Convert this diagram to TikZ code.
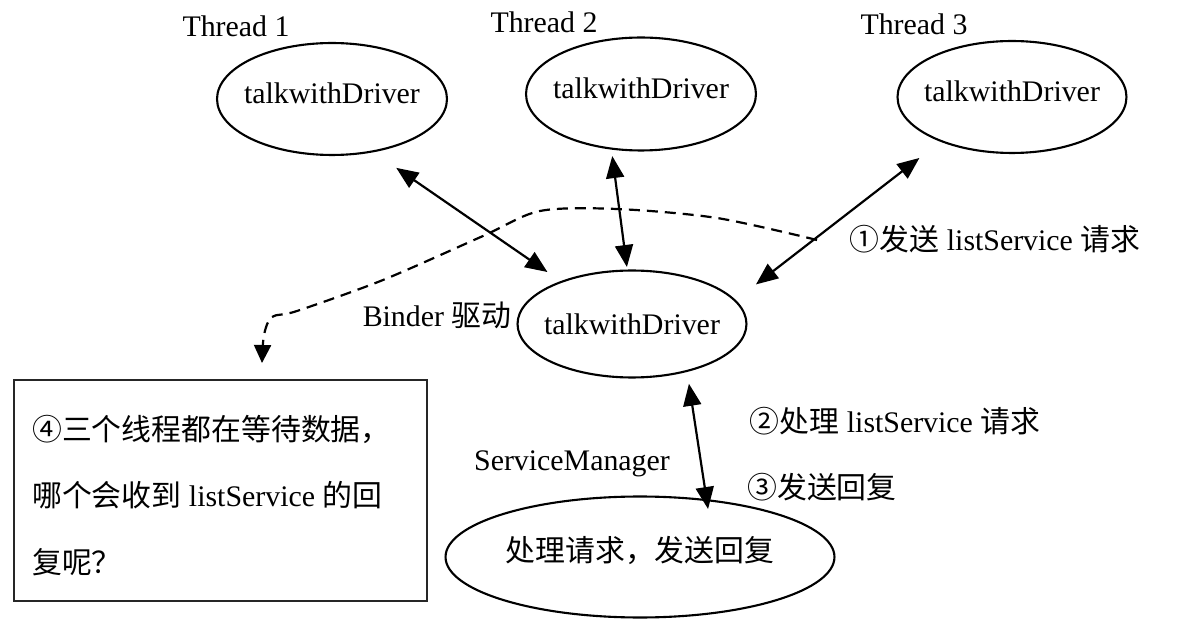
\documentclass[tikz,border=0pt]{standalone}
\usepackage{fontspec}
\setmainfont{Liberation Serif}
\newfontfamily\cjk{Noto Sans CJK SC}
\usetikzlibrary{shapes.geometric,arrows.meta,positioning}

\tikzset{
  proc/.style={ellipse, draw, line width=1.2pt, inner xsep=-10pt, inner ysep=0pt},
  link/.style={{Triangle[length=0.44cm,width=0.36cm]}-{Triangle[length=0.44cm,width=0.36cm]}, line width=1.25pt},
  qbox/.style={rectangle, draw=black!85, line width=1.2pt, minimum width=8.26cm, minimum height=4.42cm},
}

\begin{document}
\begin{tikzpicture}[x=0.02cm, y=-0.02cm, font=\fontsize{17}{20}\selectfont]
   \useasboundingbox (0,0) rectangle (1197,631);
   % three client threads
   \node[proc, text depth=0.22cm, minimum width=4.6cm, minimum height=2.24cm] (t1) at (332,99) {talkwithDriver};
   \node[proc, text depth=0.24cm, minimum width=4.6cm, minimum height=2.26cm] (t2) at (641,94) {talkwithDriver};
   \node[proc, text depth=0.22cm, minimum width=4.58cm, minimum height=2.24cm] (t3) at (1012,97) {talkwithDriver};
   \node (t1lbl) at (236,26) {Thread 1};
   \node (t2lbl) at (544,22) {Thread 2};
   \node (t3lbl) at (914,24) {Thread 3};
   % binder driver and service manager
   \node[proc, minimum width=4.58cm, minimum height=2.14cm] (drv) at (632,324) {talkwithDriver};
   \node (drvlbl) at (437,315) {Binder {\cjk 驱动}};
   \node[proc, text depth=0.32cm, minimum width=7.78cm, minimum height=2.42cm] (sm) at (640,557) {\cjk 处理请求，发送回复};
   \node (smlbl) at (572,464) {ServiceManager};
   % steps
   \node (step1) at (995,239) {{\cjk ①发送} listService {\cjk 请求}};
   \node (step2) at (895,421) {{\cjk ②处理} listService {\cjk 请求}};
   \node (step3) at (822,487) {\cjk ③发送回复};
   % question box
   \node[qbox] (box) at (220.5,490.5) {};
   \node[align=left, anchor=west, font=\fontsize{17}{37.8}\selectfont] (question)
     at ([xshift=0.26cm, yshift=-0.1cm]box.west)
     {{\cjk ④三个线程都在等待数据，}\\
      {\cjk 哪个会收到} listService {\cjk 的回}\\
      {\cjk 复呢？}};
   % connectors
   \draw[link, shorten <=0.55cm, shorten >=0.32cm] (t1.-52) -- (drv.149);
   \draw[link, shorten <=0.13cm, shorten >=0.05cm] (t2.242) -- (drv.95);
   \draw[link, shorten <=0.53cm, shorten >=0.51cm] (t3.212) -- (drv.13);
   \draw[link, shorten <=0.24cm, shorten >=-0.2cm] (drv.-41) -- (sm.41);
   \coordinate (reqfrom) at (817,240);
   \coordinate (reqto) at (262,363);
   \draw[-{Triangle[length=0.36cm,width=0.34cm]}, line width=1.25pt, dash pattern=on 0.22cm off 0.14cm]
     plot[smooth, tension=0.5] coordinates {(reqfrom) (717,218) (617,209) (540,211) (483,236) (383,280) (297,311) (272,317) (264,335) (reqto)};
\end{tikzpicture}
\end{document}
